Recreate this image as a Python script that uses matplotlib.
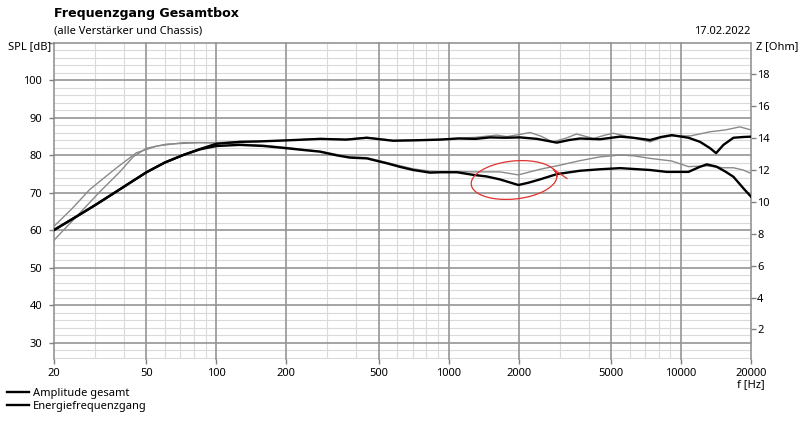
import numpy as np
import matplotlib
matplotlib.use("Agg")
import matplotlib.pyplot as plt

plt.rcParams['font.family'] = ['Noto Sans', 'DejaVu Sans']

# ---------------- data ----------------
amp_f = [20, 25, 30, 37, 44, 50, 60, 72, 85, 100, 126, 150, 200, 280, 362, 444, 576, 700, 918,
         1100, 1300, 1507, 1750, 2029, 2400, 2918, 3300, 3673, 4480, 5468, 6220, 7360, 8200,
         9120, 10760, 12080, 13340, 14150, 15220, 16800, 18500, 20000]
amp_db = [60.0, 63.6, 66.6, 70.2, 73.2, 75.4, 78.0, 80.0, 81.6, 83.0, 83.5, 83.6, 83.9, 84.3, 84.1,
          84.6, 83.8, 83.9, 84.1, 84.4, 84.3, 84.7, 84.6, 84.7, 84.3, 83.3, 84.0, 84.4, 84.2,
          84.9, 84.6, 84.0, 84.8, 85.3, 84.6, 83.5, 81.8, 80.5, 82.7, 84.6, 84.8, 84.9]

energy_f = [20, 25, 30, 37, 44, 50, 60, 72, 85, 100, 126, 160, 201, 240, 279, 330, 376, 444, 541,
            620, 704, 831, 918, 1086, 1277, 1450, 1660, 1994, 2200, 2473, 2918, 3673, 4480,
            5468, 7360, 8670, 10760, 12000, 12910, 14200, 15500, 16800, 18560, 20000]
energy_db = [60.0, 63.6, 66.6, 70.2, 73.2, 75.4, 78.0, 80.0, 81.5, 82.4, 82.7, 82.4, 81.8, 81.3,
             80.9, 79.9, 79.3, 79.1, 77.8, 76.8, 76.0, 75.3, 75.4, 75.4, 74.7, 74.3, 73.5, 72.0,
             72.6, 73.5, 74.9, 75.8, 76.2, 76.5, 76.0, 75.5, 75.5, 76.8, 77.5, 76.9, 75.6,
             74.2, 71.1, 68.9]

ref_amp_f = [20, 24, 28.5, 33, 37.2, 45.3, 55.5, 72, 100, 126, 200, 280, 362, 444, 576, 700,
             918, 1100, 1300, 1610, 1780, 2030, 2240, 2500, 2800, 3200, 3550, 4200, 4700, 5110,
             6220, 7360, 8200, 9120, 11000, 13340, 15560, 17900, 20000]
ref_amp_db = [61.0, 65.8, 70.8, 74.0, 76.6, 80.6, 82.4, 83.3, 83.3, 83.6, 83.9, 84.4, 84.2, 84.7,
              83.9, 84.0, 84.2, 84.5, 84.7, 85.3, 84.9, 85.5, 86.0, 85.0, 83.5, 84.5, 85.6, 84.4,
              85.3, 85.8, 84.6, 83.5, 84.6, 85.1, 85.1, 86.2, 86.7, 87.5, 86.7]

ref_energy_f = [20, 25, 31.5, 38.4, 43.8, 50, 61, 85, 100, 126, 160, 201, 279, 376, 444, 541,
                704, 831, 918, 1086, 1277, 1660, 1994, 2473, 3020, 3673, 4480, 5468, 6220, 7360,
                9120, 10760, 12910, 15220, 16800, 18500, 20000]
ref_energy_db = [57.3, 63.6, 70.2, 75.5, 79.5, 81.8, 82.9, 83.3, 83.2, 82.9, 82.6, 82.0, 81.0,
                 79.5, 79.3, 78.0, 76.3, 75.7, 75.6, 75.6, 75.5, 75.5, 74.7, 76.2, 77.3, 78.5,
                 79.5, 80.0, 79.8, 79.1, 78.4, 76.9, 77.1, 76.6, 76.6, 76.0, 75.1]

x_major = [20, 50, 100, 200, 500, 1000, 2000, 5000, 10000, 20000]
x_labels = ["20", "50", "100", "200", "500", "1000", "2000", "5000", "10000", "20000"]
y_major = [30, 40, 50, 60, 70, 80, 90, 100, 110]
y_labels = ["30", "40", "50", "60", "70", "80", "90", "100", ""]
z_ticks = [2, 4, 6, 8, 10, 12, 14, 16, 18]

legend_labels = ["Amplitude gesamt", "Energiefrequenzgang"]

# ---------------- figure ----------------
W, H = 800, 421
fig = plt.figure(figsize=(W / 100, H / 100), dpi=100)
ax_l, ax_r, ax_t, ax_b = 54, 751, 42.5, 359.4
ax = fig.add_axes([ax_l / W, 1 - ax_b / H, (ax_r - ax_l) / W, (ax_b - ax_t) / H])

ylo, yhi = 25.5, 110
ax.set_xscale('log')
ax.set_xlim(20, 20000)
ax.set_ylim(ylo, yhi)

x_minor = [m * d for d in [10, 100, 1000, 10000] for m in range(2, 10)
           if 20 < m * d < 20000 and m * d not in x_major]
y_minor = [v for v in range(26, 110, 2) if v % 10 != 0]
ax.set_xticks(x_major)
ax.set_xticklabels(x_labels)
ax.set_xticks(x_minor, minor=True)
ax.set_xticklabels([], minor=True)
ax.set_yticks(y_major)
ax.set_yticklabels(y_labels)
ax.set_yticks(y_minor, minor=True)

# grid drawn manually so that major lines lie above minor lines
minor_c, major_c = '#dadada', '#959595'
for v in x_minor:
    ax.axvline(v, color=minor_c, lw=0.8, zorder=0.5)
for v in y_minor:
    ax.axhline(v, color=minor_c, lw=0.8, zorder=0.5)
for v in x_major:
    ax.axvline(v, color=major_c, lw=1.2, zorder=1, clip_on=False)
for v in y_major:
    ax.axhline(v, color=major_c, lw=1.2, zorder=1, clip_on=False)

for s in ax.spines.values():
    s.set_visible(False)

ax.tick_params(axis='both', which='major', length=3.5, width=1, color='#808080',
               labelsize=8, pad=5)
ax.tick_params(axis='both', which='minor', length=0)
ax.tick_params(axis='x', pad=3)

gray = '#8a8a8a'
ax.plot(ref_amp_f, ref_amp_db, color=gray, lw=1.0, zorder=2)
ax.plot(ref_energy_f, ref_energy_db, color=gray, lw=1.0, zorder=2)
l1, = ax.plot(amp_f, amp_db, color='black', lw=1.7, zorder=3)
l2, = ax.plot(energy_f, energy_db, color='black', lw=1.7, zorder=3)

# right (impedance) axis
ax2 = ax.twinx()
zscale = 20 / 85.0
ax2.set_ylim((ylo - 25) * zscale, (yhi - 25) * zscale)
ax2.set_yticks(z_ticks)
ax2.set_yticklabels([str(v) for v in z_ticks])
for s in ax2.spines.values():
    s.set_visible(False)
ax2.tick_params(axis='y', length=3.5, width=1, color='#808080', labelsize=8, pad=1)

# red hand-drawn ellipse (in axes-fraction coordinates)
aw, ah = ax_r - ax_l, ax_b - ax_t
def px2ax(px, py):
    return (np.asarray(px) - ax_l) / aw, (ax_b - np.asarray(py)) / ah
t = np.linspace(-0.35, 2 * np.pi + 0.05, 200)
cx, cy, a, b, ang = 514, 180, 43, 19, np.deg2rad(-6)
ex = cx + a * np.cos(t) * np.cos(ang) - b * np.sin(t) * np.sin(ang)
ey = cy + a * np.cos(t) * np.sin(ang) + b * np.sin(t) * np.cos(ang)
ex = np.concatenate([[567], ex])
ey = np.concatenate([[178.5], ey])
exa, eya = px2ax(ex, ey)
ax.plot(exa, eya, color='#e03030', lw=0.9, transform=ax.transAxes, zorder=4, clip_on=False)

# texts
fig.text(54 / W, 1 - 14 / H, "Frequenzgang Gesamtbox", fontsize=9.1, fontweight='bold',
         family='DejaVu Sans', ha='left', va='center')
fig.text(54 / W, 1 - 31 / H, "(alle Verstärker und Chassis)", fontsize=8, ha='left', va='center')
fig.text(750 / W, 1 - 31 / H, "17.02.2022", fontsize=8, ha='right', va='center')
fig.text(51 / W, 1 - 47 / H, "SPL [dB]", fontsize=8, ha='right', va='center')
fig.text(756 / W, 1 - 47 / H, "Z [Ohm]", fontsize=8, ha='left', va='center')
fig.text(751 / W, 1 - 385 / H, "f [Hz]", fontsize=8, ha='center', va='center')

fig.legend([l1, l2], legend_labels, loc='upper left', bbox_to_anchor=(0.004, 1 - 385 / H),
           frameon=False, fontsize=8, handlelength=2.0, handletextpad=0.35,
           labelspacing=0.15, borderaxespad=0.0, borderpad=0.3)

fig.savefig("out.png", dpi=100)
